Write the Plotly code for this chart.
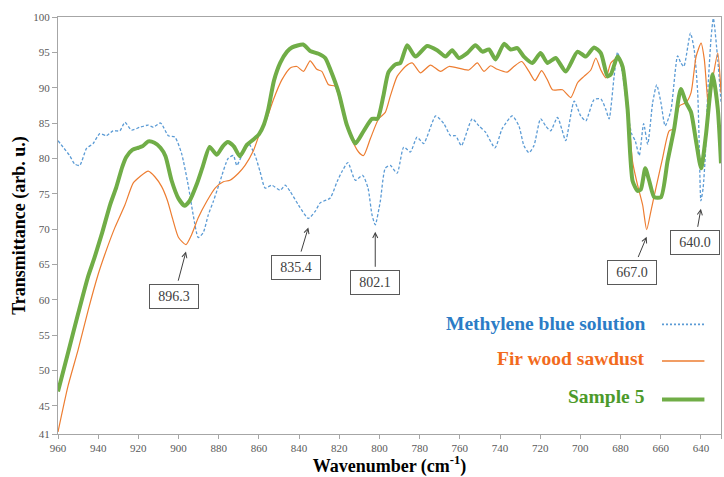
import plotly.graph_objects as go

# FTIR transmittance spectra, 960-630 cm-1
mb_wn = [960, 957.5, 954.2, 951.7, 949.2, 945.8, 942.5, 939.2, 935.9, 932.6, 929.2, 926.7,
         923.4, 919.3, 915.1, 912.6, 908.9, 905.1, 901.8, 898.5, 895.2, 892.7, 890.2, 887.7,
         885.2, 882.7, 879.4, 875.3, 872.7, 871, 868.5, 865.2, 861.9, 859.4, 856.9, 853.6,
         849.4, 846.9, 844.4, 840.3, 835.4, 832, 829.5, 824.5, 821.1, 818.7, 815.7, 812,
         808.4, 805.7, 803.7, 802.1, 799.6, 797.1, 794.6, 791.2, 787.9, 784.6, 781.3, 778,
         772, 767.9, 764.6, 762.1, 759.2, 753.8, 750.5, 747.2, 742.5, 738.9, 733.9, 730.6,
         728.1, 725.6, 723.1, 719.8, 717.3, 714.8, 711.4, 709.3, 707.3, 703.1, 699.8, 697.3,
         693.2, 689.8, 687.3, 685.7, 683.2, 681.5, 679, 676.8, 674.5, 672.7, 670.7, 668.5,
         666.5, 664, 662, 659.9, 657.8, 655, 651.6, 650, 648.5, 645.2, 643.3, 641.6, 640.8,
         640.0, 638.9, 637.8, 636.6, 634.9, 633.8, 631.6, 630]
mb_t = [82.5, 81.6, 80.4, 79.2, 79.0, 81.4, 82.1, 83.5, 83.2, 83.9, 83.9, 85.1,
        84.0, 84.4, 84.7, 84.4, 85.0, 83.2, 83.0, 80.7, 76.2, 72.0, 68.8, 69.5,
        72.0, 73.9, 76.7, 80.0, 80.4, 79.0, 80.4, 82.1, 80.4, 78.1, 75.8, 76.2,
        75.5, 76.2, 75.3, 73.4, 71.5, 72.5, 73.7, 74.4, 76.7, 78.1, 79.4, 76.9,
        77.6, 75.8, 72.0, 70.6, 73.9, 78.6, 79.0, 77.9, 81.6, 80.9, 83.0, 82.1,
        86.0, 84.9, 83.2, 83.2, 81.8, 85.6, 84.6, 83.7, 81.5, 84.2, 86.0, 84.6,
        81.8, 80.8, 81.8, 85.6, 84.6, 83.9, 85.8, 84.2, 82.5, 88.1, 86.0, 85.3,
        88.3, 88.4, 86.9, 85.6, 91.6, 95.0, 92.0, 87.2, 83.5, 82.5, 80.4, 84.9,
        82.0, 87.9, 90.4, 87.9, 84.6, 86.7, 94.5, 93.5, 93.0, 97.7, 95.3, 89.3, 81.5,
        74.0, 75.8, 80.5, 89.3, 97.2, 99.8, 93.9, 88.0]

fir_wn = [960, 955, 950, 945, 940, 936.7, 931.7, 926.7, 922.6, 919.3, 915.1, 911.8,
          908.4, 905.5, 903, 900, 896.3, 893.5, 890.2, 886, 881.8, 877.7, 874.4, 870.2,
          866.9, 862.7, 859.4, 856.1, 852.8, 848.6, 844.4, 841.1, 837.8, 834.5, 831.2,
          828.7, 825.3, 822, 818.7, 814.5, 810.4, 807.9, 804.5, 800.4, 797.1, 794.6,
          791.2, 787.1, 783.7, 779.6, 774.6, 769.6, 765.4, 755.5, 751.3, 748, 744.7,
          741.3, 736.4, 733.1, 729.2, 725.6, 722.6, 719.3, 716.4, 713.9, 708.9, 704.8,
          701.4, 698.2, 694.8, 692.3, 689.8, 687.3, 684.8, 681.5, 679, 676.5, 674,
          671.5, 669, 667.0, 664.9, 662.4, 659.1, 655.8, 653.3, 650.8, 647.4, 644.9,
          642.4, 639.9, 638.3, 636.1, 633.8, 631.6, 630]
fir_t = [41.3, 47.8, 52.9, 58.5, 63.6, 66.4, 70.2, 73.4, 76.5, 77.4, 78.2, 77.4,
         76.0, 74.0, 71.5, 68.8, 67.8, 69.2, 71.6, 73.9, 75.8, 76.7, 76.9, 77.9,
         79.0, 81.1, 83.7, 85.6, 88.3, 91.1, 92.8, 93.0, 92.3, 93.8, 92.6,
         92.3, 90.4, 90.2, 87.0, 83.2, 80.9, 80.4, 82.8, 85.6, 86.5, 88.8,
         91.6, 93.0, 93.5, 92.1, 93.2, 92.3, 93.0, 92.5, 93.5, 92.3, 93.1,
         92.6, 92.2, 93.0, 93.7, 92.3, 91.0, 92.4, 91.1, 89.7, 89.7, 88.6,
         90.7, 91.6, 92.5, 94.2, 92.5, 91.4, 93.5, 94.2, 92.8, 87.9, 79.5,
         76.2, 73.4, 69.9, 72.5, 75.8, 80.0, 83.9, 84.2, 87.4, 87.9, 89.3,
         94.4, 96.3, 94.0, 87.0, 91.8, 94.9, 89.3]

s5_wn = [960, 955, 950, 945, 942, 938, 934, 931, 928, 926, 923, 920, 918, 915, 912, 909,
         906.5, 903.5, 900, 897, 894.5, 891, 888, 884.5, 881, 878, 875.5, 872.5, 869.5,
         866, 863, 860, 857.5, 855.3, 852.5, 849.4, 846, 843.5, 838, 834.5, 830.3, 827,
         824.5, 820.3, 816.2, 812, 808, 803.7, 801, 798, 795.5, 792, 789.6, 786.2, 782.1,
         776.3, 771.3, 767.1, 763.8, 760.5, 756.3, 752.2, 748.8, 745.5, 742.2, 738,
         734.7, 731.4, 728.1, 723.9, 719.8, 716.4, 712.3, 707.3, 701.4, 697.3, 693.2,
         689.8, 686.5, 684.8, 681.5, 679, 676.5, 674, 671.5, 669.9, 667.7, 665.7, 663.2,
         659.9, 656.6, 653.3, 650, 647.4, 644.9, 642.4, 639.9, 637.5, 634.1, 631.6, 630]
s5_t = [47.0, 52.5, 58.0, 63.3, 65.8, 69.5, 73.5, 75.9, 78.8, 80.2, 81.2, 81.5, 81.7, 82.4,
        82.2, 81.5, 80.3, 76.9, 74.3, 73.3, 74.0, 76.3, 78.8, 81.6, 80.5, 81.7, 82.3, 81.7,
        80.3, 81.9, 82.6, 83.4, 84.8, 87.0, 91.0, 93.5, 95.1, 95.7, 96.1, 95.2, 94.8, 94.2,
        92.6, 89.3, 84.7, 82.1, 83.8, 85.6, 85.6, 88.9, 92.2, 93.3, 93.5, 96.0, 94.4,
        95.9, 95.3, 94.4, 95.3, 94.2, 94.9, 96.0, 95.1, 95.4, 94.0, 96.2,
        95.4, 95.6, 94.4, 93.5, 94.9, 93.5, 94.2, 92.3, 95.1, 94.4, 95.7,
        94.9, 91.6, 91.9, 94.4, 93.0, 87.0, 76.8, 75.4, 75.6, 78.6, 76.8, 74.5,
        74.5, 79.6, 84.2, 89.8, 87.9, 86.5, 82.4, 78.6, 83.3, 91.9, 87.0, 79.3]

series_names = ["Methylene blue solution", "Fir wood sawdust", "Sample 5"]
line_colors = ["#5B9BD5", "#ED7D31", "#70AD47"]
label_colors = ["#2B7CC6", "#F26B1D", "#4C9A2A"]

# labelled absorption bands: (wavenumber, series index)
band_wn = [896.3, 835.4, 802.1, 667.0, 640.0]
band_series = [1, 0, 0, 1, 0]

x_ticks = [960, 940, 920, 900, 880, 860, 840, 820, 800, 780, 760, 740, 720, 700, 680, 660, 640, 630]
y_ticks = [41, 45, 50, 55, 60, 65, 70, 75, 80, 85, 90, 95, 100]

SERIF = "Liberation Serif"

fig = go.Figure()
all_x = [mb_wn, fir_wn, s5_wn]
all_y = [mb_t, fir_t, s5_t]
styles = [dict(width=1.3, dash="3px,2px"), dict(width=1.2), dict(width=4)]
for xs, ys, name, col, st in zip(all_x, all_y, series_names, line_colors, styles):
    fig.add_trace(go.Scatter(
        x=xs, y=ys, mode="lines", name=name,
        line=dict(color=col, shape="spline", smoothing=0.6, **st),
        showlegend=False, hoverinfo="x+y",
    ))

# label box centre offset (pixels, right / down) from the arrow tip
box_off = [(-12, 45), (-12, 40), (0, 51), (-15, 36), (-6, 34)]
tip_gap = [7, 9, 7, 7, 8]

annotations = []
for wn, si, (bx, by), gap in zip(band_wn, band_series, box_off, tip_gap):
    t_val = all_y[si][all_x[si].index(wn)]
    annotations.append(dict(
        x=wn, y=t_val, xref="x", yref="y", text=f"{wn:.1f}",
        showarrow=True, ax=bx, ay=by, startstandoff=4,
        arrowhead=5, arrowsize=1, arrowwidth=1, arrowcolor="#404040",
        yshift=-gap, width=44, height=19,
        bordercolor="#595959", borderwidth=1, borderpad=2, bgcolor="white",
        font=dict(family=SERIF, size=14, color="#404040"),
    ))

# legend: text on the left, line sample on the right
legend_rows_y = [0.265, 0.1815, 0.0894]
legend_line_y = [0.263, 0.175, 0.083]
shapes = []
for name, lc, tc, ty, ly, st in zip(series_names, line_colors, label_colors,
                                    legend_rows_y, legend_line_y, styles):
    annotations.append(dict(
        x=0.889, y=ty, xref="paper", yref="paper", xanchor="right", yanchor="middle",
        text=f"<b>{name}</b>", showarrow=False,
        font=dict(family=SERIF, size=19.5, color=tc),
    ))
    shapes.append(dict(
        type="line", xref="paper", yref="paper", x0=0.911, x1=0.975, y0=ly, y1=ly,
        line=dict(color=lc, width=st["width"] if st["width"] > 2 else 1.6,
                  dash="2px,2px" if "dash" in st else "solid"),
    ))

fig.update_layout(
    width=724, height=477,
    margin=dict(l=58, r=3, t=17, b=43),
    paper_bgcolor="white", plot_bgcolor="white",
    annotations=annotations, shapes=shapes,
    font=dict(family=SERIF),
)
fig.update_xaxes(
    range=[960, 630], tickvals=x_ticks, ticktext=[str(v) for v in x_ticks],
    showgrid=False, zeroline=False, showline=True, mirror=True,
    linecolor="#A6A6A6", linewidth=1, ticks="outside", ticklen=4, tickcolor="#A6A6A6",
    tickfont=dict(family=SERIF, size=11, color="#595959"),
    title=dict(text="<b>Wavenumber (cm<sup>-1</sup>)</b>", standoff=7,
               font=dict(family=SERIF, size=18, color="black")),
    automargin=False,
)
fig.update_yaxes(
    range=[41, 100], tickvals=y_ticks,
    showgrid=False, zeroline=False, showline=True, mirror=True,
    linecolor="#A6A6A6", linewidth=1, ticks="outside", ticklen=5, tickcolor="#A6A6A6",
    tickfont=dict(family=SERIF, size=11, color="#595959"),
    title=dict(text="<b>Transmittance (arb. u.)</b>", standoff=2,
               font=dict(family=SERIF, size=18, color="black")),
    automargin=False,
)

fig.write_html("out.html")
